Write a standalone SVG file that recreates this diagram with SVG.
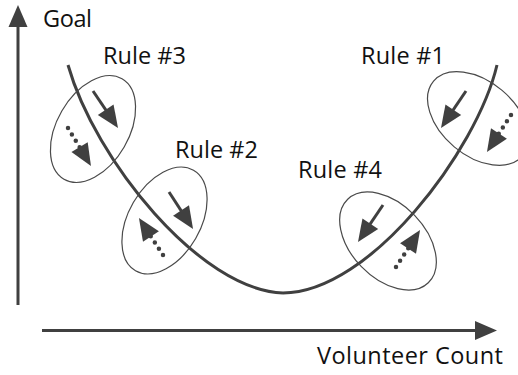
<svg xmlns="http://www.w3.org/2000/svg" width="518" height="375" viewBox="0 0 518 375">
<style>
.t{font-family:"Open Sans","Noto Sans","Liberation Sans",sans-serif;font-size:23.5px;fill:#111}
.ax{stroke:#404040;stroke-width:3;fill:none}
.cv{stroke:#404040;stroke-width:3;fill:none}
.el{stroke:#4a4a4a;stroke-width:1.2;fill:none}
.sa{stroke:#404040;stroke-width:3;fill:none;marker-end:url(#hd)}
.da{stroke:#404040;stroke-width:4.5;fill:none;stroke-linecap:round;stroke-dasharray:0 7.5;marker-end:url(#hd)}
</style>
<defs>
<marker id="hd" markerUnits="userSpaceOnUse" markerWidth="22" markerHeight="19" refX="12" refY="9.5" orient="auto" overflow="visible">
<path d="M0,0 L22,9.5 L0,19 Z" fill="#404040"/>
</marker>
</defs>
<g id="axes">
<line class="ax" x1="18" y1="305" x2="18" y2="15" style="marker-end:url(#hd)"/>
<line class="ax" x1="42" y1="330.5" x2="487" y2="330.5" style="marker-end:url(#hd)"/>
<text class="t" x="43" y="27" textLength="49">Goal</text>
<text class="t" x="317" y="364" textLength="186">Volunteer Count</text>
</g>
<g id="connectors">
<path class="cv" d="M68,65 C95,160 200,290 283,293"/>
<path class="cv" d="M283,293 C370,293 477,150 497,65"/>
</g>
<g id="rule3">
<ellipse class="el" cx="93" cy="129" rx="58" ry="36" transform="rotate(-60 93 129)"/>
<line class="sa" x1="93" y1="91" x2="112.4" y2="119.7"/>
<line class="da" x1="68" y1="128" x2="85.8" y2="157.4"/>
<text class="t" x="103" y="64" textLength="83">Rule #3</text>
</g>
<g id="rule2">
<ellipse class="el" cx="164.5" cy="220.5" rx="58" ry="36" transform="rotate(-60 164.5 220.5)"/>
<line class="sa" x1="169" y1="192" x2="187.6" y2="220.6"/>
<line class="da" x1="163" y1="255" x2="144.4" y2="226.4"/>
<text class="t" x="175" y="158" textLength="83">Rule #2</text>
</g>
<g id="rule4">
<ellipse class="el" cx="388" cy="241" rx="58" ry="37" transform="rotate(46 388 241)"/>
<line class="sa" x1="383" y1="205" x2="363.6" y2="233.7"/>
<line class="da" x1="396" y1="267" x2="414.6" y2="238.4"/>
<text class="t" x="298" y="178" textLength="84">Rule #4</text>
</g>
<g id="rule1">
<ellipse class="el" cx="478" cy="118.5" rx="58" ry="37" transform="rotate(40 478 118.5)"/>
<line class="sa" x1="466" y1="91" x2="446.6" y2="119.7"/>
<line class="da" x1="511" y1="115" x2="492.4" y2="143.6"/>
<text class="t" x="361" y="64" textLength="84">Rule #1</text>
</g>
</svg>
